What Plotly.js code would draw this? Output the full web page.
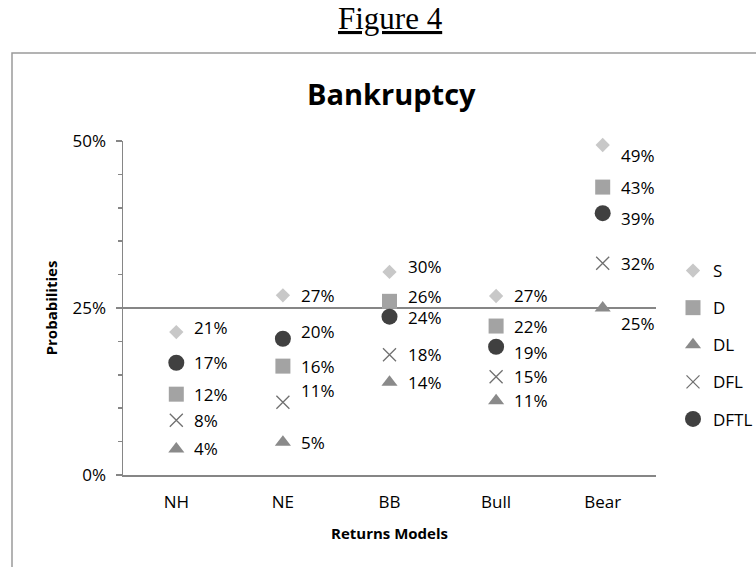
<!DOCTYPE html>
<html>
<head>
<meta charset="utf-8">
<script src="https://cdn.plot.ly/plotly-3.0.1.min.js"></script>
<style>html,body{margin:0;padding:0;background:#fff;}#chart{width:756px;height:567px;}</style>
</head>
<body>
<div id="chart"></div>
<script>
// Data
const categories = ["NH", "NE", "BB", "Bull", "Bear"];
const seriesNames = ["S", "D", "DL", "DFL", "DFTL"];
const S    = [0.214, 0.269, 0.304, 0.268, 0.494];
const D    = [0.121, 0.163, 0.260, 0.223, 0.431];
const DL   = [0.039, 0.049, 0.139, 0.111, 0.250];
const DFL  = [0.082, 0.109, 0.180, 0.147, 0.317];
const DFTL = [0.168, 0.204, 0.237, 0.192, 0.392];
const yTickVals = [0, 0.25, 0.5];
const yTickText = ["0%", "25%", "50%"];

const seriesValues = [S, D, DL, DFL, DFTL];
const styles = {
  S:    {symbol: "diamond",     size: 11, color: "#c8c8c8"},
  D:    {symbol: "square",      size: 15, color: "#a3a3a3"},
  DL:   {symbol: "triangle-up", size: 14, color: "#8a8a8a"},
  DFL:  {symbol: "x-thin-open", size: 13, color: "#707070"},
  DFTL: {symbol: "circle",      size: 16, color: "#404040"}
};
// vertical nudges of data labels (pixels, positive = downward)
const labelNudge = {
  "S|NH": -5, "DFTL|NE": -7, "DFL|NE": -12, "S|BB": -5, "D|BB": -5, "DFTL|BB": 1,
  "DFTL|Bull": 6, "S|Bear": 10, "DFTL|Bear": 5, "DL|Bear": 15
};

const font = "'Open Sans', sans-serif";
const traces = seriesNames.map((name, i) => {
  const st = styles[name];
  const marker = {symbol: st.symbol, size: st.size, color: st.color};
  if (name === "DFL") marker.line = {color: st.color, width: 1.3};
  return {
    type: "scatter", mode: "markers", name: name,
    x: categories, y: seriesValues[i],
    marker: marker, legendgroup: name, cliponaxis: false,
    hoverinfo: "x+y"
  };
});

const annotations = [];
seriesNames.forEach((name, i) => {
  seriesValues[i].forEach((v, j) => {
    const key = name + "|" + categories[j];
    annotations.push({
      xref: "x", yref: "y", x: categories[j], y: v,
      text: Math.round(v * 100) + "%", showarrow: false,
      xanchor: "left", yanchor: "middle", xshift: 16,
      yshift: -(labelNudge[key] || 0),
      font: {family: font, size: 17, color: "#000"}
    });
  });
});
annotations.push({
  xref: "paper", yref: "paper", x: (390 - 123) / 533, y: (475 - 19) / 334,
  text: "<u>Figure 4</u>", showarrow: false, xanchor: "center", yanchor: "middle",
  font: {family: "'Liberation Serif', 'Times New Roman', serif", size: 31, color: "#000"}
});
annotations.push({
  xref: "paper", yref: "paper", x: (391 - 123) / 533, y: (475 - 93) / 334,
  text: "<b>Bankruptcy</b>", showarrow: false, xanchor: "center", yanchor: "middle",
  font: {family: font, size: 29, color: "#000"}
});

const layout = {
  width: 756, height: 567,
  margin: {l: 123, r: 100, t: 141, b: 92, autoexpand: false},
  paper_bgcolor: "#fff", plot_bgcolor: "#fff",
  showlegend: true,
  legend: {
    x: (673 - 123) / 533, y: (475 - 253) / 334, xanchor: "left", yanchor: "top",
    font: {family: font, size: 17, color: "#000"},
    traceorder: "grouped", tracegroupgap: 12, itemwidth: 30,
    bgcolor: "rgba(0,0,0,0)"
  },
  xaxis: {
    type: "category", range: [-0.5, 4.5], showline: true, linecolor: "#868686", linewidth: 1.5,
    showgrid: false, zeroline: false, ticks: "", ticklabelstandoff: 11,
    tickfont: {family: font, size: 17, color: "#000"},
    title: {text: "<b>Returns Models</b>", font: {family: font, size: 15, color: "#000"}, standoff: 16},
    fixedrange: true
  },
  yaxis: {
    range: [0, 0.5], tickvals: yTickVals, ticktext: yTickText,
    showline: true, linecolor: "#868686", linewidth: 1.5,
    showgrid: true, gridcolor: "#868686", gridwidth: 1.5, zeroline: false,
    ticks: "outside", ticklen: 6, tickcolor: "#868686", tickwidth: 1.5,
    ticklabelstandoff: 6,
    minor: {dtick: 0.05, tick0: 0, ticks: "outside", ticklen: 4, tickcolor: "#868686", tickwidth: 1.5, showgrid: false},
    tickfont: {family: font, size: 17, color: "#000"},
    title: {text: "<b>Probabilities</b>", font: {family: font, size: 15, color: "#000"}, standoff: 11},
    fixedrange: true
  },
  shapes: [{
    type: "rect", xref: "paper", yref: "paper",
    x0: (12 - 123) / 533, x1: (770 - 123) / 533,
    y0: (475 - 580) / 334, y1: (475 - 53) / 334,
    line: {color: "#9a9a9a", width: 1.5}, fillcolor: "rgba(0,0,0,0)", layer: "below"
  }],
  annotations: annotations
};

Plotly.newPlot("chart", traces, layout, {displayModeBar: false, staticPlot: true});
</script>
</body>
</html>
